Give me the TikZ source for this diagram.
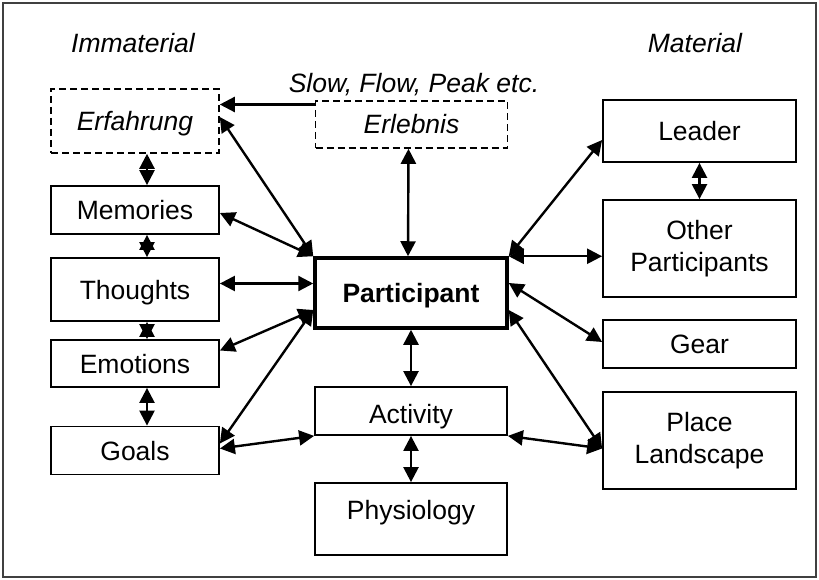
\documentclass[tikz,border=0pt]{standalone}
\usepackage{fontspec}
\setmainfont{Liberation Sans}
\usetikzlibrary{arrows.meta}
\begin{document}
\begin{tikzpicture}[x=1pt,y=-1pt,
  txt/.style={font=\fontsize{26.5}{32}\selectfont},
  box/.style={txt, draw, line width=1.8pt, inner sep=0pt, text height=19pt, text depth=0pt},
  twobox/.style={txt, draw, line width=1.8pt, inner sep=0pt, align=center},
  dbox/.style={box, line width=1.6pt, dash pattern=on 7pt off 4pt, font=\fontsize{26.5}{32}\selectfont\itshape},
  lcol/.style={minimum width=168pt},
  mcol/.style={minimum width=192pt},
  rcol/.style={minimum width=193pt},
  tip/.style={},
  arr/.style={line width=2.4pt, {Triangle[length=15pt,width=15pt]}-{Triangle[length=15pt,width=15pt]}},
  sarr/.style={line width=2.4pt, -{Triangle[length=15pt,width=15pt]}}
]
\useasboundingbox (0,0) rectangle (819,580);
\draw[line width=1.5pt, draw=black!75] (3,3) rectangle (816,577);

% headings
\node[txt, font=\fontsize{26.5}{32}\selectfont\itshape, inner sep=0pt] (imm) at (133,43) {Immaterial};
\node[txt, font=\fontsize{26.5}{32}\selectfont\itshape, inner sep=0pt] (mat) at (695,43) {Material};
\node[txt, font=\fontsize{26.5}{32}\selectfont\itshape, inner sep=0pt, text height=19pt, text depth=0pt] (slow) at (414,83) {Slow, Flow, Peak etc.};

% left column
\node[dbox, lcol, minimum height=64pt] (erf) at (135,121) {Erfahrung};
\node[box, lcol, minimum height=48pt] (mem) at (135,210) {Memories};
\node[box, lcol, minimum height=63pt] (thou) at (135,289.5) {Thoughts};
\node[box, lcol, minimum height=47pt] (emo) at (135,363.5) {Emotions};
\node[box, lcol, minimum height=48pt] (goal) at (135,450.5) {Goals};

% middle column
\node[dbox, mcol, minimum height=47pt] (erl) at (411.5,124.5) {Erlebnis};
\node[box, mcol, minimum height=70pt, line width=3.5pt, font=\fontsize{26.5}{32}\selectfont\bfseries] (part) at (411,293) {Participant};
\node[box, mcol, minimum height=48pt] (act) at (411,411) {};
\node[txt, inner sep=0pt, text height=19pt, text depth=0pt] (actt) at (411,414) {Activity};
\node[box, mcol, minimum height=72pt] (phys) at (411,519) {};
\node[txt, inner sep=0pt, text height=19pt, text depth=0pt] (physt) at (411,510) {Physiology};

% right column
\node[box, rcol, minimum height=62pt] (lead) at (699.5,131) {Leader};
\node[twobox, rcol, minimum height=97pt] (oth) at (699.5,248.5) {Other\\Participants};
\node[box, rcol, minimum height=48pt] (gear) at (699.5,344) {Gear};
\node[twobox, rcol, minimum height=97pt] (place) at (699.5,440.5) {Place\\Landscape};

% connectors
\draw[sarr] ([yshift=20pt]erl.west) coordinate (e1) -- (e1 -| erf.east);
\draw[arr] ([yshift=4pt]erf.east) -- (part.north west);
\draw[arr] ([xshift=12pt]erf.south) -- ([xshift=12pt]mem.north);
\draw[arr] ([xshift=12pt]mem.south) -- ([xshift=12pt]thou.north);
\draw[arr] ([xshift=12pt]thou.south) -- ([xshift=12pt]emo.north);
\draw[arr] ([xshift=12pt]emo.south) -- ([xshift=12pt]goal.north);
\draw[arr] ([yshift=-3pt]mem.east) -- (part.north west);
\draw[arr] ([yshift=6pt]thou.east) coordinate (t1) -- (t1 -| part.west);
\draw[arr] ([yshift=13pt]emo.east) -- ([yshift=-17pt]part.west);
\draw[arr] ([yshift=7pt]goal.east) -- ([yshift=-17pt]part.west);
\draw[arr] ([yshift=2pt]goal.east) -- (act.south west);
\draw[arr] ([xshift=-3pt]erl.south) -- ([xshift=-3pt]part.north);
\draw[arr] (part.south) -- (act.north);
\draw[arr] (act.south) -- (phys.north);
\draw[arr] ([yshift=-9pt]lead.west) -- (part.north east);
\draw[arr] (lead.south) -- (oth.north);
\draw[arr] (part.north east) -- (part.north east -| oth.west);
\draw[arr] ([yshift=10pt]part.east) -- ([yshift=2pt]gear.west);
\draw[arr] ([yshift=-17pt]part.east) -- ([yshift=-8pt]place.west);
\draw[arr] (act.south east) -- ([yshift=-8pt]place.west);
\end{tikzpicture}
\end{document}
